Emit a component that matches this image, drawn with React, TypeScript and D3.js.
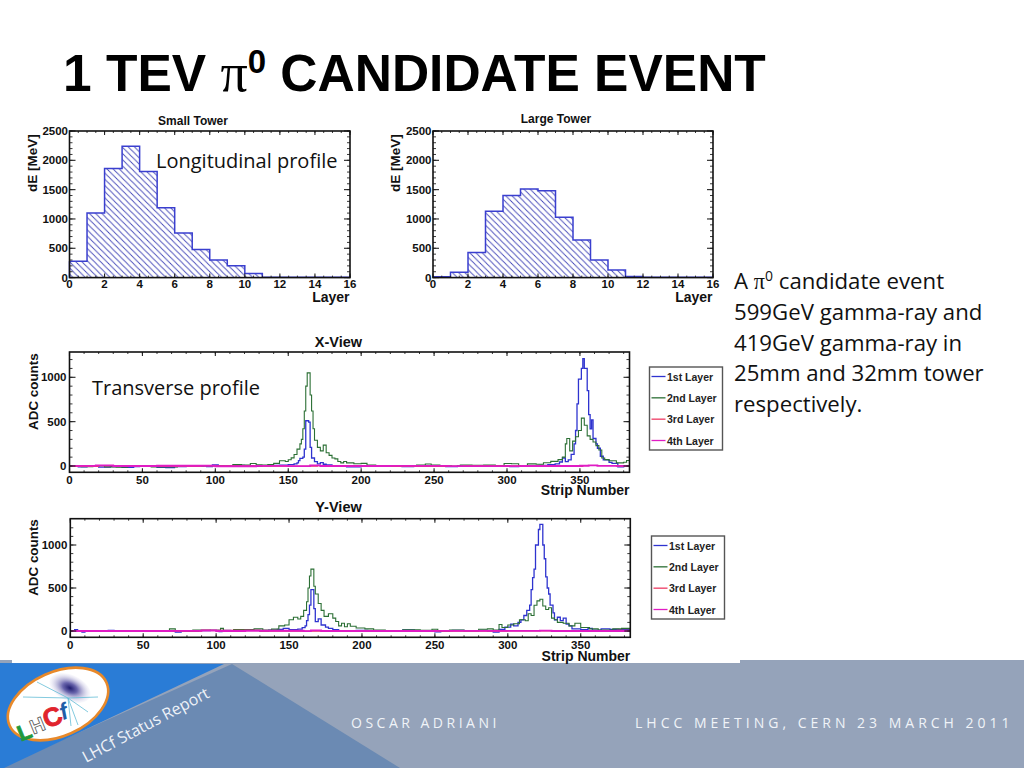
import * as d3 from 'd3';

type Bin = [number, number];

const layerTicks = [0, 2, 4, 6, 8, 10, 12, 14, 16];
const dETicks = [0, 500, 1000, 1500, 2000, 2500];
const stripTicks = [0, 50, 100, 150, 200, 250, 300, 350];
const adcTicks = [0, 500, 1000];

const smallTower = [280, 1100, 1860, 2240, 1810, 1190, 760, 480, 300, 200, 70, 6, 4, 4, 4, 4];
const largeTower = [15, 90, 430, 1130, 1400, 1510, 1480, 1030, 640, 300, 130, 20, 6, 5, 4, 4];

const xLayer1: Bin[] = [
  [0, -5], [6, -10], [12, -4], [20, -12], [28, -8], [36, -15], [44, -6], [48, 5], [52, -4], [60, -14], [66, -18],
  [72, -8], [80, -4], [88, 2], [94, -6], [98, 12], [102, -2], [108, 2], [114, 8], [120, 3], [126, -3], [132, 2],
  [138, 6], [144, 10], [150, 15], [154, 25], [156, 35], [157, 60], [158, 85], [160, 100], [161, 190], [162, 510],
  [164, 495], [165, 210], [166, 90], [168, 50], [170, 25], [172, 38], [174, 20], [176, 12], [180, -5], [190, -10],
  [200, -4], [206, -2], [214, 4], [222, -3], [228, -8], [236, -3], [244, 3], [250, -5], [258, -8], [266, 2],
  [274, -3], [282, 4], [290, -4], [296, 5], [302, -8], [308, -5], [314, 0], [322, 8], [328, 15], [333, 25],
  [336, 45], [338, 90], [340, 50], [342, 70], [344, 130], [346, 250], [347, 400], [348, 700], [349, 980],
  [351, 1100], [352, 1210], [353, 1100], [355, 850], [356, 580], [357, 420], [358, 520], [359, 310], [361, 250],
  [362, 200], [364, 110], [366, 70], [370, 40], [372, 30], [376, -10], [380, 2], [384, 2],
];
const xLayer2: Bin[] = [
  [0, -4], [8, -8], [16, 2], [24, -10], [32, -14], [40, -6], [48, -2], [56, -10], [66, -12], [74, -6], [84, -2],
  [92, 0], [100, 6], [106, 2], [112, 15], [118, 12], [124, 28], [128, 14], [132, 10], [136, 16], [140, 30],
  [144, 60], [148, 50], [150, 70], [152, 92], [154, 130], [156, 190], [158, 250], [159, 300], [160, 420],
  [161, 620], [162, 900], [163, 1050], [165, 800], [166, 620], [167, 420], [168, 290], [170, 210], [172, 170],
  [174, 235], [176, 150], [178, 120], [180, 90], [182, 80], [184, 50], [186, 35], [188, 50], [190, 35], [195, 25],
  [200, 30], [204, 10], [210, 6], [216, 2], [222, 0], [230, 2], [238, 10], [244, 22], [248, 12], [254, 2],
  [262, -2], [268, 12], [276, 8], [284, 10], [292, 6], [298, 28], [303, 25], [308, 4], [314, 24], [320, 20],
  [325, 36], [330, 52], [335, 72], [338, 100], [340, 250], [341, 310], [343, 170], [345, 280], [347, 330],
  [349, 400], [351, 540], [353, 460], [355, 340], [357, 300], [359, 270], [361, 230], [363, 180], [365, 90],
  [367, 72], [370, 60], [375, 35], [380, 42], [382, 62], [384, 30],
];
const xLayer3: Bin[] = [
  [0, -4], [20, 2], [50, -6], [90, 2], [130, -3], [170, 3], [220, -4], [270, 2], [330, -4], [352, 5], [375, -3], [384, -8],
];
const xLayer4: Bin[] = [
  [0, 2], [18, 6], [30, 0], [60, 3], [100, -3], [128, 2], [150, -2], [165, 8], [172, 0], [220, 2], [260, -2],
  [310, 0], [350, 3], [356, 8], [362, 1], [384, -4],
];

const yLayer1: Bin[] = [
  [0, 0], [3, 15], [5, -2], [8, -14], [10, 2], [26, 8], [30, -3], [50, 2], [70, -4], [72, -12], [76, -3], [88, 5],
  [96, 8], [102, -6], [104, 8], [110, 3], [120, 8], [130, -2], [136, 10], [142, 18], [146, 30], [150, 16], [156, 22],
  [159, 40], [161, 60], [162, 120], [163, 190], [164, 300], [165, 480], [167, 260], [168, 110], [170, 140], [172, 70],
  [175, 45], [177, 30], [180, 15], [184, 2], [190, -3], [196, 8], [204, 0], [212, 4], [220, 2], [228, 14], [236, 4],
  [244, -4], [250, -10], [254, 4], [262, 8], [270, 2], [280, 8], [286, 0], [290, -12], [294, 20], [298, 45], [302, 80],
  [304, 60], [307, 100], [309, 130], [311, 180], [313, 240], [315, 300], [316, 480], [317, 620], [318, 720], [319, 1000],
  [321, 1180], [322, 1240], [324, 1000], [325, 840], [326, 630], [327, 500], [328, 430], [329, 300], [331, 210],
  [332, 130], [334, 160], [336, 120], [338, 150], [340, 80], [342, 60], [344, 25], [350, 15], [355, 30], [358, 10],
  [364, 25], [370, 20], [376, 15], [384, -10],
];
const yLayer2: Bin[] = [
  [0, 0], [24, 2], [36, -2], [48, 3], [62, 6], [68, 25], [72, 2], [84, 12], [96, 8], [103, 30], [105, 2], [112, 16],
  [120, 18], [126, 25], [132, 10], [138, 22], [143, 60], [147, 70], [150, 130], [153, 160], [156, 140], [158, 170],
  [160, 240], [162, 340], [163, 500], [164, 640], [165, 720], [167, 520], [168, 430], [170, 320], [172, 240], [174, 170],
  [177, 200], [180, 150], [182, 110], [184, 60], [186, 90], [188, 50], [190, 85], [192, 55], [196, 35], [202, 25],
  [208, 10], [216, 4], [224, 2], [228, 14], [240, 8], [248, 20], [252, -4], [260, 12], [270, 4], [280, 20], [286, 25],
  [290, 10], [294, 75], [296, 40], [300, 70], [304, 85], [308, 130], [312, 120], [314, 200], [316, 180], [318, 300],
  [320, 350], [322, 370], [324, 290], [326, 250], [328, 270], [330, 150], [332, 130], [334, 100], [338, 90], [342, 60],
  [346, 90], [350, 40], [356, 25], [362, 10], [372, 25], [378, 30], [384, 0],
];
const yLayer3: Bin[] = [
  [0, 0], [25, 5], [40, -2], [90, 8], [130, -2], [180, 3], [250, -2], [300, 2], [340, 0], [375, 8], [384, -5],
];
const yLayer4: Bin[] = [
  [0, 0], [70, 2], [90, 6], [100, 0], [120, 3], [160, -2], [165, 8], [172, 0], [250, 2], [300, 1], [322, 5], [330, 0], [384, 0],
];

const layerNames = ['1st Layer', '2nd Layer', '3rd Layer', '4th Layer'];
const layerColors = ['#2e33cf', '#2b6f34', '#ee3a62', '#e01cc4'];

const sans = '"Liberation Sans", Arial, sans-serif';
const body = '"Open Sans", sans-serif';

function Frame({ x, y, xTicks, yTicks, xMinor, yMinor }: any) {
  const [x0, x1] = x.range();
  const [y0, y1] = y.range();
  const tick = (k: string, a: number, b: number, c: number, d: number, w = 0.9) => (
    <line key={k} x1={a} y1={b} x2={c} y2={d} stroke="#222" strokeWidth={w} />
  );
  return (
    <g>
      {xMinor.map((v: number) => (
        <g key={'xm' + v}>
          {tick('a', x(v), y0, x(v), y0 - 2)}
          {tick('b', x(v), y1, x(v), y1 + 2)}
        </g>
      ))}
      {xTicks.map((v: number) => (
        <g key={'x' + v}>
          {tick('a', x(v), y0, x(v), y0 - 4, 1.1)}
          {tick('b', x(v), y1, x(v), y1 + 4, 1.1)}
        </g>
      ))}
      {yMinor.map((v: number) => (
        <g key={'ym' + v}>
          {tick('a', x0, y(v), x0 + 3, y(v))}
          {tick('b', x1, y(v), x1 - 3, y(v))}
        </g>
      ))}
      {yTicks.map((v: number) => (
        <g key={'y' + v}>
          {tick('a', x0, y(v), x0 + 6, y(v), 1.1)}
          {tick('b', x1, y(v), x1 - 6, y(v), 1.1)}
        </g>
      ))}
      <rect x={x0} y={y1} width={x1 - x0} height={y0 - y1} fill="none" stroke="#111" strokeWidth={1.6} />
    </g>
  );
}

function TowerPlot({ title, titleX, titleY, values, left, right }: any) {
  const x = d3.scaleLinear().domain([0, 16]).range([left, right]);
  const y = d3.scaleLinear().domain([0, 2500]).range([277.6, 131]);
  const bins: Bin[] = values.map((v: number, i: number) => [i, v] as Bin);
  bins.push([16, values[values.length - 1]]);
  const area = d3.area<Bin>().x(d => x(d[0])).y0(y(0)).y1(d => y(d[1])).curve(d3.curveStepAfter);
  const line = d3.line<Bin>().x(d => x(d[0])).y(d => y(d[1])).curve(d3.curveStepAfter);
  return (
    <g fontFamily={sans} fontWeight="bold" fill="#111">
      <text x={titleX} y={titleY} textAnchor="middle" fontSize={12}>{title}</text>
      <path d={area(bins) ?? ''} fill="url(#hatch)" />
      <path d={line(bins) ?? ''} fill="none" stroke="#3a3fcf" strokeWidth={1.5} />
      <line x1={x(0)} y1={y(0)} x2={x(0)} y2={y(values[0])} stroke="#3a3fcf" strokeWidth={1.5} />
      <Frame x={x} y={y} xTicks={layerTicks} yTicks={dETicks} xMinor={d3.range(0, 16.01, 0.5)} yMinor={d3.range(0, 2501, 100)} />
      {layerTicks.map(v => (
        <text key={v} x={x(v)} y={288} textAnchor="middle" fontSize={11.5}>{v}</text>
      ))}
      {dETicks.map(v => (
        <text key={v} x={left - 1.5} y={y(v) + 4} textAnchor="end" fontSize={11.5}>{v}</text>
      ))}
      <text transform={`translate(${left - 33},192) rotate(-90)`} fontSize={13.5}>dE [MeV]</text>
      <text x={right - 0.5} y={301.5} textAnchor="end" fontSize={14}>Layer</text>
    </g>
  );
}

function StripPlot({ id, title, titleY, series, left, right, top, bottom, zeroY, kY, legendX, legendY, legendH, labelX, axisY, axisTitleY }: any) {
  const x = d3.scaleLinear().domain([0, 384]).range([left, right]);
  const y = d3.scaleLinear().domain([0, 1000]).range([zeroY, kY]);
  const yFrame = d3.scaleLinear().domain([y.invert(bottom), y.invert(top)]).range([bottom, top]);
  const line = d3.line<Bin>().x(d => x(d[0])).y(d => y(d[1])).curve(d3.curveStepAfter);
  const rowGap = (legendH - 19) / 3;
  return (
    <g fontFamily={sans} fontWeight="bold" fill="#111">
      <text x={338.5} y={titleY} textAnchor="middle" fontSize={14.5}>{title}</text>
      <clipPath id={id}>
        <rect x={left} y={top} width={right - left} height={bottom - top} />
      </clipPath>
      <g clipPath={`url(#${id})`}>
        {series.map((s: Bin[], i: number) => (
          <path key={i} d={line(s) ?? ''} fill="none" stroke={layerColors[i]} strokeWidth={i === 3 ? 1.8 : i === 0 ? 1.3 : 1.1} />
        ))}
      </g>
      <Frame x={x} y={yFrame} xTicks={stripTicks} yTicks={adcTicks} xMinor={d3.range(0, 381, 10)} yMinor={d3.range(0, 1201, 100)} />
      {stripTicks.map(v => (
        <text key={v} x={x(v)} y={axisY} textAnchor="middle" fontSize={11.5}>{v}</text>
      ))}
      {adcTicks.map(v => (
        <text key={v} x={left - 3} y={y(v) + 4} textAnchor="end" fontSize={11.5}>{v}</text>
      ))}
      <text transform={`translate(38,${(top + bottom) / 2 - 20.5}) rotate(-90)`} textAnchor="middle" fontSize={13.4}>ADC counts</text>
      <text x={right} y={axisTitleY} textAnchor="end" fontSize={14}>Strip Number</text>
      <rect x={legendX} y={legendY} width={73} height={legendH} fill="#fff" stroke="#555" strokeWidth={1.4} />
      {layerNames.map((n, i) => (
        <g key={n}>
          <line x1={legendX + 2} x2={legendX + 16} y1={legendY + 9.5 + i * rowGap} y2={legendY + 9.5 + i * rowGap} stroke={layerColors[i]} strokeWidth={1.3} />
          <text x={labelX} y={legendY + 13.5 + i * rowGap} fontSize={10.5} fill="#222">{n}</text>
        </g>
      ))}
    </g>
  );
}

function Footer() {
  return (
    <g>
      <rect x={0} y={660} width={1024} height={108} fill="#95a3ba" />
      <rect x={12} y={655} width={728} height={8} fill="#fff" />
      <polygon points="232,664 400,768 0,768" fill="#6b8ab3" />
      <polygon points="0,663 224,664 4,768 0,768" fill="#2a7cd6" />
      <defs>
        <radialGradient id="smudge">
          <stop offset="0%" stopColor="#1f1c70" />
          <stop offset="35%" stopColor="#6a66ad" />
          <stop offset="100%" stopColor="#e6e4f4" stopOpacity={0.2} />
        </radialGradient>
      </defs>
      <g transform="rotate(-24 58 704)">
        <ellipse cx={58} cy={704} rx={53} ry={32} fill="#fff" stroke="#e8892a" strokeWidth={2.6} />
      </g>
      <ellipse cx={70} cy={688} rx={22} ry={13} fill="url(#smudge)" transform="rotate(25 70 688)" />
      <g stroke="#63bcd6" strokeWidth={0.8}>
        <line x1={68} y1={698} x2={37} y2={682} />
        <line x1={68} y1={698} x2={23} y2={697} />
        <line x1={68} y1={698} x2={98} y2={697} />
        <line x1={68} y1={698} x2={78} y2={725} />
        <line x1={68} y1={698} x2={71} y2={726} />
        <line x1={68} y1={698} x2={88} y2={712} />
      </g>
      <g transform="rotate(-22 40 722)" fontFamily={sans} fontWeight="bold">
        <text x={15} y={733} fontSize={22} fill="#1f9a3c" stroke="#1f9a3c" strokeWidth={0.8}>L</text>
        <text x={29} y={731} fontSize={20} fill="#fff" stroke="#555" strokeWidth={0.8}>H</text>
        <text x={44} y={731} fontSize={26} fill="#e0242c" stroke="#e0242c" strokeWidth={0.8}>C</text>
        <text x={62} y={729} fontSize={23} fill="#1d5fa8" fontStyle="italic">f</text>
      </g>
      <text transform="translate(86,763) rotate(-28)" fontFamily={body} fontSize={16} fill="#eef2f8">LHCf Status Report</text>
      <text x={351} y={728} fontFamily={body} fontSize={14} letterSpacing={3.5} fill="#f0f3f8">OSCAR ADRIANI</text>
      <text x={635} y={728} fontFamily={body} fontSize={14} letterSpacing={4} fill="#f0f3f8">LHCC MEETING, CERN 23 MARCH 2011</text>
    </g>
  );
}

export default function App() {
  return (
    <svg width={1024} height={768} viewBox="0 0 1024 768" style={{ position: 'absolute', left: 0, top: 0, background: '#fff' }}>
      <defs>
        <pattern id="hatch" width={6.2} height={6.2} patternUnits="userSpaceOnUse">
          <path d="M-1.55,4.65 L1.55,7.75 M-1.55,-1.55 L7.75,7.75 M4.65,-1.55 L7.75,1.55" stroke="#4448b8" strokeWidth={0.9} />
        </pattern>
      </defs>

      <Footer />

      <text x={63} y={91} fontFamily={sans} fontWeight="bold" fontSize={51.5} fill="#000">
        1 TEV <tspan fontFamily='"Liberation Serif", "DejaVu Serif", serif' fontWeight="normal" fontSize={54}>π</tspan>
        <tspan fontSize={33} dy={-18}>0</tspan>
        <tspan dy={18}> CANDIDATE EVENT</tspan>
      </text>

      <TowerPlot title="Small Tower" titleX={193} titleY={125} values={smallTower} left={69.5} right={350} />
      <TowerPlot title="Large Tower" titleX={556} titleY={123} values={largeTower} left={433} right={713} />
      <text x={156} y={168} fontFamily={body} fontSize={20} fill="#111">Longitudinal profile</text>

      <StripPlot
        id="xclip" title="X-View" titleY={346.5} series={[xLayer1, xLayer2, xLayer3, xLayer4]}
        left={69.5} right={629.5} top={352} bottom={472.3} zeroY={466} kY={377.3}
        legendX={649.5} legendY={367} legendH={83} labelX={667} axisY={484} axisTitleY={495}
      />
      <StripPlot
        id="yclip" title="Y-View" titleY={512} series={[yLayer1, yLayer2, yLayer3, yLayer4]}
        left={70.3} right={630.3} top={518.7} bottom={637.3} zeroY={631} kY={545}
        legendX={651.5} legendY={536} legendH={83} labelX={669} axisY={649} axisTitleY={660.5}
      />
      <text x={92} y={395} fontFamily={body} fontSize={20} fill="#111">Transverse profile</text>

      <g fontFamily={body} fontSize={22.2} fill="#111">
        <text x={734} y={289}>A <tspan fontFamily='"Liberation Serif", serif'>π</tspan><tspan fontSize={14} dy={-8}>0</tspan><tspan dy={8}> candidate event</tspan></text>
        <text x={734} y={319.5}>599GeV gamma-ray and</text>
        <text x={734} y={350.5}>419GeV gamma-ray in</text>
        <text x={734} y={381}>25mm and 32mm tower</text>
        <text x={734} y={412}>respectively.</text>
      </g>
    </svg>
  );
}
